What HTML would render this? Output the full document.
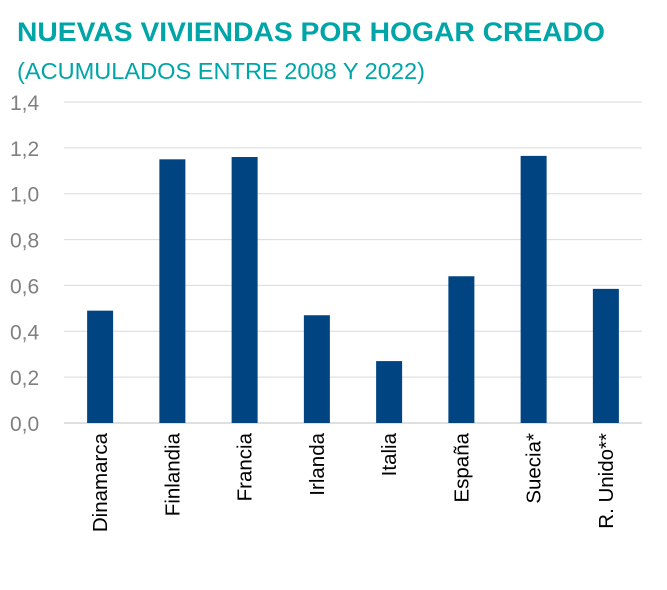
<!DOCTYPE html>
<html><head><meta charset="utf-8"><style>
body{margin:0;background:#fff;width:667px;height:585px;overflow:hidden;font-family:"Liberation Sans",sans-serif}
</style></head><body>
<svg width="667" height="585">
<text x="17" y="41" font-size="27" font-weight="bold" fill="#00a5a8" textLength="588" lengthAdjust="spacingAndGlyphs">NUEVAS VIVIENDAS POR HOGAR CREADO</text>
<text x="17" y="79" font-size="23" fill="#00a5a8" textLength="408" lengthAdjust="spacingAndGlyphs">(ACUMULADOS ENTRE 2008 Y 2022)</text>
<g id="grid"></g><g id="bars"></g><g id="labels"></g>
</svg>
<script>
const categories=["Dinamarca","Finlandia","Francia","Irlanda","Italia","España","Suecia*","R. Unido**"];
const values=[0.49,1.15,1.16,0.47,0.27,0.64,1.165,0.585];
const ticks=[0,0.2,0.4,0.6,0.8,1.0,1.2,1.4];
const tickLabels=["0,0","0,2","0,4","0,6","0,8","1,0","1,2","1,4"];
const NS="http://www.w3.org/2000/svg";
const x0=64,x1=642,yBase=423,yTop=102,maxV=1.4;
const y=v=>yBase-(v/maxV)*(yBase-yTop);
const band=(x1-x0)/categories.length;
const xc=i=>x0+band*(i+0.5);
const g=document.getElementById('grid'),b=document.getElementById('bars'),l=document.getElementById('labels');
function mk(t,a){const e=document.createElementNS(NS,t);for(const k in a)e.setAttribute(k,a[k]);return e;}
ticks.forEach((t,i)=>{
 const ln=mk('line',{x1:x0,x2:x1,y1:y(t),y2:y(t),stroke:i==0?'#bfbfbf':'#d9d9d9','stroke-width':1});
 
 
 g.appendChild(ln);
 const tx=mk('text',{x:10,y:y(t)+8,'font-size':21,fill:'#808080'});
 tx.textContent=tickLabels[i];
 
 
 g.appendChild(tx);
});
categories.forEach((c,i)=>{
 const r=mk('rect',{x:xc(i)-13,y:y(values[i]),width:26,height:yBase-y(values[i]),fill:'#004481'});
 
 
 b.appendChild(r);
 const tx=mk('text',{transform:`translate(${xc(i)+7},433) rotate(-90)`,'text-anchor':'end','font-size':20.5,fill:'#000'});
 tx.textContent=c;
 
 
 l.appendChild(tx);
});
</script>
</body></html>
